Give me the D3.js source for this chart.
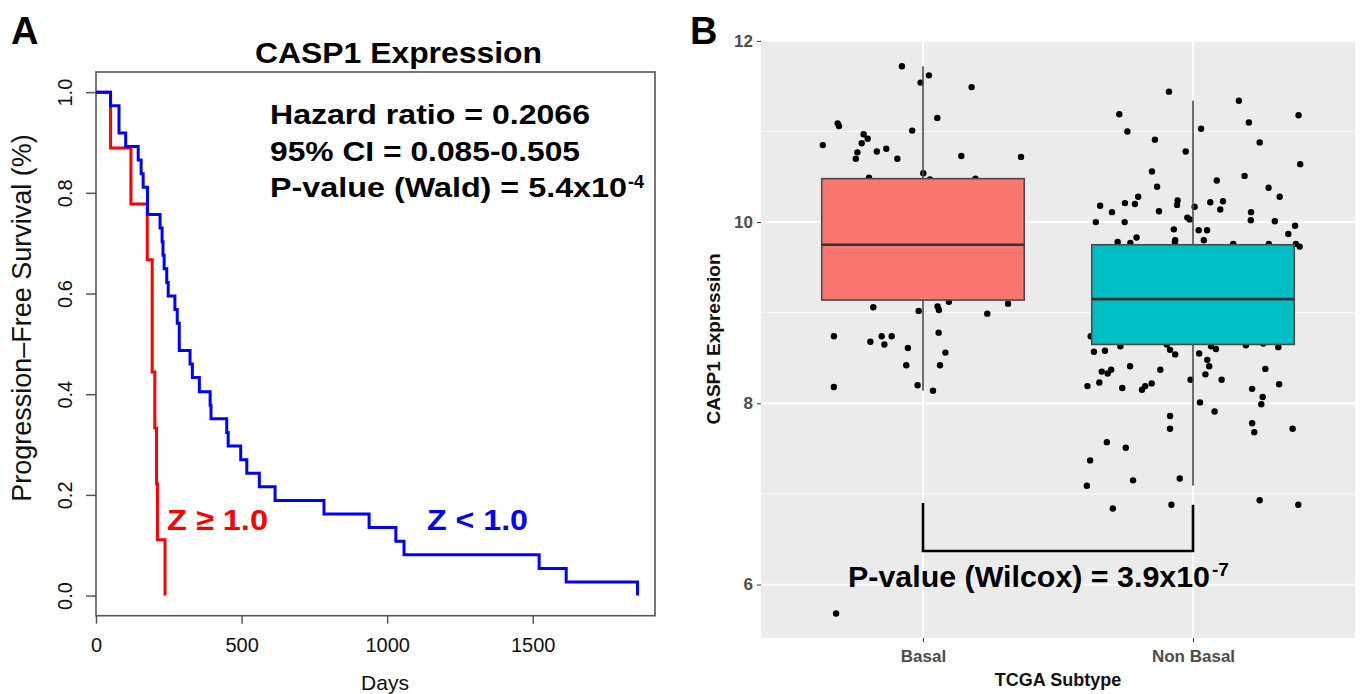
<!DOCTYPE html>
<html><head><meta charset="utf-8">
<script src="https://cdn.jsdelivr.net/npm/d3@7"></script>
<style>
html,body{margin:0;padding:0;background:#fff;}
svg{display:block;font-family:"Liberation Sans",Arial,Helvetica,sans-serif;}
</style></head>
<body>
<svg id="chart" width="1360" height="694"></svg>
<script>
// ---------- Panel A data (Kaplan-Meier) ----------
const blueTimes = [0, 50, 79, 102, 145, 155, 162, 177, 220, 227, 230, 234, 243, 248, 271, 279, 286, 323, 331, 355, 392, 395, 449, 454, 497, 518, 561, 615, 783, 938, 1030, 1058, 1522, 1615, 1860];
const blueSurv  = [1, 0.973, 0.919, 0.892, 0.865, 0.838, 0.811, 0.757, 0.730, 0.703, 0.676, 0.649, 0.622, 0.595, 0.568, 0.541, 0.487, 0.460, 0.433, 0.405, 0.378, 0.351, 0.324, 0.297, 0.270, 0.243, 0.216, 0.189, 0.162, 0.135, 0.108, 0.081, 0.054, 0.027, 0];
const redTimes = [0, 50, 120, 176, 193, 202, 208, 211, 237];
const redSurv  = [1, 0.889, 0.778, 0.667, 0.444, 0.333, 0.222, 0.111, 0];
const daysTicks = [0, 500, 1000, 1500];
const survTicks = [0, 0.2, 0.4, 0.6, 0.8, 1.0];
const statLines = ["Hazard ratio = 0.2066", "95% CI = 0.085-0.505", "P-value (Wald) = 5.4x10"];

// ---------- Panel B data (box plot) ----------
const subtypes = ["Basal", "Non Basal"];
const boxLow    = [8.14, 7.09];
const boxQ1     = [9.14, 8.65];
const boxMedian = [9.75, 9.15];
const boxQ3     = [10.48, 9.75];
const boxHigh   = [11.72, 11.34];
const boxColors = ["#F8766D", "#00BFC4"];
const exprTicks = [6, 8, 10, 12];
const exprMinor = [7, 9, 11];
const basalValues = [11.72,11.62,11.54,11.49,11.15,11.09,11.06,11.01,10.97,10.92,10.87,10.85,10.81,10.78,10.77,10.70,10.70,10.73,10.72,10.54,10.49,10.47,10.48,9.06,9.02,9.07,9.03,9.12,8.99,9.10,8.74,8.68,8.74,8.74,8.65,8.61,8.78,8.56,8.42,8.42,8.18,8.20,8.14,5.68];
const basalJitter = [-0.078,0.022,-0.009,0.180,0.053,-0.316,-0.311,-0.040,-0.220,-0.205,-0.227,-0.371,-0.136,-0.171,-0.243,-0.249,-0.095,0.142,0.363,0.001,-0.200,0.026,0.194,-0.184,-0.016,0.054,0.059,0.096,0.238,0.315,-0.330,-0.195,-0.153,-0.116,-0.143,-0.056,0.058,0.083,-0.062,0.063,-0.330,-0.020,0.037,-0.322];
const nonBasalValues = [11.44,11.34,11.18,11.19,11.10,11.00,11.03,10.91,10.88,10.78,10.64,10.56,10.51,10.46,10.39,10.38,10.28,10.28,10.18,10.21,10.20,10.24,10.19,10.22,10.23,10.17,10.14,10.11,10.12,10.11,10.05,10.03,10.00,10.00,10.02,10.01,9.92,9.91,9.91,9.96,9.87,9.83,9.80,9.78,9.80,9.78,9.77,9.76,9.76,9.73,9.76,
 8.74,8.57,8.58,8.63,8.65,8.59,8.54,8.55,8.63,8.60,8.64,8.66,8.62,8.48,8.41,8.41,8.35,8.33,8.37,8.37,8.32,8.38,8.19,8.23,8.17,8.15,8.19,8.22,8.26,8.26,8.16,8.21,8.07,7.99,8.01,7.91,7.86,7.78,7.72,7.72,7.68,7.57,7.51,7.37,7.15,7.17,7.09,6.84,6.88,6.93,6.88];
const nonBasalJitter = [-0.089,0.170,0.391,-0.273,0.207,-0.243,0.030,-0.141,0.247,-0.027,0.397,-0.152,0.191,0.088,-0.133,0.280,0.321,-0.203,-0.344,-0.252,-0.215,-0.057,-0.059,0.064,0.111,0.006,0.101,-0.300,-0.126,0.215,-0.021,-0.012,-0.360,-0.253,0.214,0.303,-0.071,0.021,0.052,0.378,0.353,-0.209,-0.066,-0.067,0.040,-0.279,-0.232,0.149,0.281,0.395,0.381,
 -0.379,-0.367,-0.326,-0.269,-0.097,-0.085,-0.066,0.023,0.067,0.085,0.196,0.260,0.316,0.053,0.060,-0.233,-0.338,-0.316,-0.303,-0.121,0.046,0.268,-0.391,-0.347,-0.262,-0.189,-0.177,-0.153,-0.009,0.106,0.219,0.319,0.258,0.253,0.026,0.080,-0.085,0.219,-0.085,0.369,0.227,-0.319,-0.249,-0.381,-0.222,-0.049,-0.393,-0.297,-0.080,0.247,0.390];

const svg = d3.select("#chart");
const FONT = '"Liberation Sans",Arial,Helvetica,sans-serif';

// ================= PANEL A =================
const ax = d3.scaleLinear().domain([0, 1920]).range([96, 655]);
const ay = d3.scaleLinear().domain([-0.04, 1.04]).range([615.7, 72]);
const gA = svg.append("g");

const xAxisA = gA.append("g").attr("transform", `translate(0,${ay(-0.04)})`)
  .call(d3.axisBottom(ax).tickValues(daysTicks).tickSize(8).tickPadding(0).tickFormat(d3.format("d")));
xAxisA.select(".domain").remove();
xAxisA.selectAll("line").attr("stroke", "#555").attr("stroke-width", 1.5);
xAxisA.selectAll("text").attr("font-family", FONT).attr("font-size", 20).attr("fill", "#111")
  .attr("y", 36).attr("dy", 0);

const yAxisA = gA.append("g").attr("transform", `translate(${ax(0)},0)`)
  .call(d3.axisLeft(ay).tickValues(survTicks).tickSize(10).tickFormat(d3.format(".1f")));
yAxisA.select(".domain").remove();
yAxisA.selectAll("line").attr("stroke", "#555").attr("stroke-width", 1.5);
yAxisA.selectAll("text").attr("font-family", FONT).attr("font-size", 20).attr("fill", "#111")
  .attr("x", 0).attr("dy", 0).attr("text-anchor", "middle")
  .attr("transform", "translate(-24,0) rotate(-90)");

gA.append("rect").attr("x", ax(0)).attr("y", ay(1.04)).attr("width", ax(1920) - ax(0)).attr("height", ay(-0.04) - ay(1.04))
  .attr("fill", "none").attr("stroke", "#555").attr("stroke-width", 1.6);

const kmLine = d3.line().x(d => ax(d[0])).y(d => ay(d[1])).curve(d3.curveStepAfter);
gA.append("path").datum(redTimes.map((t, i) => [t, redSurv[i]]))
  .attr("d", kmLine).attr("fill", "none").attr("stroke", "#FF0000").attr("stroke-width", 3);
gA.append("path").datum(blueTimes.map((t, i) => [t, blueSurv[i]]))
  .attr("d", kmLine).attr("fill", "none").attr("stroke", "#0000FF").attr("stroke-width", 3);

gA.append("text").attr("x", 255).attr("y", 63).attr("font-family", FONT).attr("font-weight", "bold")
  .attr("font-size", 29).attr("textLength", 287).attr("lengthAdjust", "spacingAndGlyphs").text("CASP1 Expression");
gA.append("text").attr("x", 385).attr("y", 690).attr("text-anchor", "middle").attr("font-family", FONT)
  .attr("font-size", 21).attr("fill", "#111").text("Days");
gA.append("text").attr("transform", "translate(31,318) rotate(-90)").attr("text-anchor", "middle")
  .attr("font-family", FONT).attr("font-size", 27).attr("fill", "#111").text("Progression\u2013Free Survival (%)");

const statY = [124, 161, 197];
const statW = [320, 310, 357];
statLines.forEach((s, i) => {
  gA.append("text").attr("x", 270).attr("y", statY[i]).attr("font-family", FONT).attr("font-weight", "bold")
    .attr("font-size", 28).attr("textLength", statW[i]).attr("lengthAdjust", "spacingAndGlyphs").text(s);
});
gA.append("text").attr("x", 628).attr("y", 188).attr("font-family", FONT).attr("font-weight", "bold")
  .attr("font-size", 18).text("-4");

gA.append("text").attr("x", 167).attr("y", 530).attr("font-family", FONT).attr("font-weight", "bold")
  .attr("font-size", 30).attr("fill", "#FF0000").attr("textLength", 101).attr("lengthAdjust", "spacingAndGlyphs").text("Z \u2265 1.0");
gA.append("text").attr("x", 427).attr("y", 530).attr("font-family", FONT).attr("font-weight", "bold")
  .attr("font-size", 30).attr("fill", "#0000FF").attr("textLength", 101).attr("lengthAdjust", "spacingAndGlyphs").text("Z < 1.0");

svg.append("text").attr("x", 11).attr("y", 44).attr("font-family", FONT).attr("font-weight", "bold")
  .attr("font-size", 38).text("A");
svg.append("text").attr("x", 690).attr("y", 44).attr("font-family", FONT).attr("font-weight", "bold")
  .attr("font-size", 38).text("B");

// ================= PANEL B =================
const bx = d3.scaleLinear().domain([0.4, 2.6]).range([761, 1355]);
const by = d3.scaleLinear().domain([5.41, 12.01]).range([638, 40]);
const gB = svg.append("g");

gB.append("rect").attr("x", bx(0.4)).attr("y", by(12.01)).attr("width", bx(2.6) - bx(0.4)).attr("height", by(5.41) - by(12.01))
  .attr("fill", "#EBEBEB");
gB.selectAll(".minor").data(exprMinor).enter().append("line")
  .attr("x1", bx(0.4)).attr("x2", bx(2.6)).attr("y1", d => by(d)).attr("y2", d => by(d))
  .attr("stroke", "#fff").attr("stroke-width", 0.9);
gB.selectAll(".major").data(exprTicks).enter().append("line")
  .attr("x1", bx(0.4)).attr("x2", bx(2.6)).attr("y1", d => by(d)).attr("y2", d => by(d))
  .attr("stroke", "#fff").attr("stroke-width", 1.8);
gB.selectAll(".vmajor").data(subtypes).enter().append("line")
  .attr("x1", (d, i) => bx(i + 1)).attr("x2", (d, i) => bx(i + 1)).attr("y1", by(12.01)).attr("y2", by(5.41))
  .attr("stroke", "#fff").attr("stroke-width", 1.8);

const yAxisB = gB.append("g").attr("transform", `translate(${bx(0.4)},0)`)
  .call(d3.axisLeft(by).tickValues(exprTicks).tickSize(4).tickPadding(4).tickFormat(d3.format("d")));
yAxisB.select(".domain").remove();
yAxisB.selectAll("line").attr("stroke", "#333").attr("stroke-width", 1);
yAxisB.selectAll("text").attr("font-family", FONT).attr("font-size", 17).attr("font-weight", "bold").attr("fill", "#4D4D4D");

const xAxisB = gB.append("g").attr("transform", `translate(0,${by(5.41)})`)
  .call(d3.axisBottom(d3.scalePoint().domain(subtypes).range([bx(1), bx(2)])).tickSize(4).tickPadding(4));
xAxisB.select(".domain").remove();
xAxisB.selectAll("line").attr("stroke", "#333").attr("stroke-width", 1);
xAxisB.selectAll("text").attr("font-family", FONT).attr("font-size", 17).attr("font-weight", "bold").attr("fill", "#4D4D4D")
  .attr("y", 24).attr("dy", 0);

gB.append("text").attr("transform", `translate(720,${(by(12.01) + by(5.41)) / 2}) rotate(-90)`).attr("text-anchor", "middle")
  .attr("font-family", FONT).attr("font-weight", "bold").attr("font-size", 19).attr("fill", "#111").text("CASP1 Expression");
gB.append("text").attr("x", (bx(0.4) + bx(2.6)) / 2).attr("y", 686).attr("text-anchor", "middle")
  .attr("font-family", FONT).attr("font-weight", "bold").attr("font-size", 18).attr("fill", "#111").text("TCGA Subtype");

const pts = basalValues.map((v, i) => ({g: 1, j: basalJitter[i], v}))
  .concat(nonBasalValues.map((v, i) => ({g: 2, j: nonBasalJitter[i], v})));
gB.selectAll(".pt").data(pts).enter().append("circle")
  .attr("cx", d => bx(d.g + d.j)).attr("cy", d => by(d.v)).attr("r", 3.2).attr("fill", "#000");

subtypes.forEach((s, i) => {
  const c = i + 1;
  gB.append("line").attr("x1", bx(c)).attr("x2", bx(c)).attr("y1", by(boxHigh[i])).attr("y2", by(boxQ3[i]))
    .attr("stroke", "#4a4a4a").attr("stroke-width", 1.6);
  gB.append("line").attr("x1", bx(c)).attr("x2", bx(c)).attr("y1", by(boxQ1[i])).attr("y2", by(boxLow[i]))
    .attr("stroke", "#4a4a4a").attr("stroke-width", 1.6);
  gB.append("rect").attr("x", bx(c - 0.375)).attr("width", bx(c + 0.375) - bx(c - 0.375))
    .attr("y", by(boxQ3[i])).attr("height", by(boxQ1[i]) - by(boxQ3[i]))
    .attr("fill", boxColors[i]).attr("stroke", "#4a4a4a").attr("stroke-width", 1.6);
  gB.append("line").attr("x1", bx(c - 0.375)).attr("x2", bx(c + 0.375)).attr("y1", by(boxMedian[i])).attr("y2", by(boxMedian[i]))
    .attr("stroke", "#333").attr("stroke-width", 2.6);
});

const brTop = [6.9, 6.88], brBottom = 6.37;
gB.append("path").attr("d", `M${bx(1)},${by(brTop[0])}V${by(brBottom)}H${bx(2)}V${by(brTop[1])}`)
  .attr("fill", "none").attr("stroke", "#000").attr("stroke-width", 2.6);
gB.append("text").attr("x", 848).attr("y", 587).attr("font-family", FONT).attr("font-weight", "bold")
  .attr("font-size", 30).attr("textLength", 362).attr("lengthAdjust", "spacingAndGlyphs").text("P-value (Wilcox) = 3.9x10");
gB.append("text").attr("x", 1212).attr("y", 576).attr("font-family", FONT).attr("font-weight", "bold")
  .attr("font-size", 19).text("-7");
</script>
</body></html>
